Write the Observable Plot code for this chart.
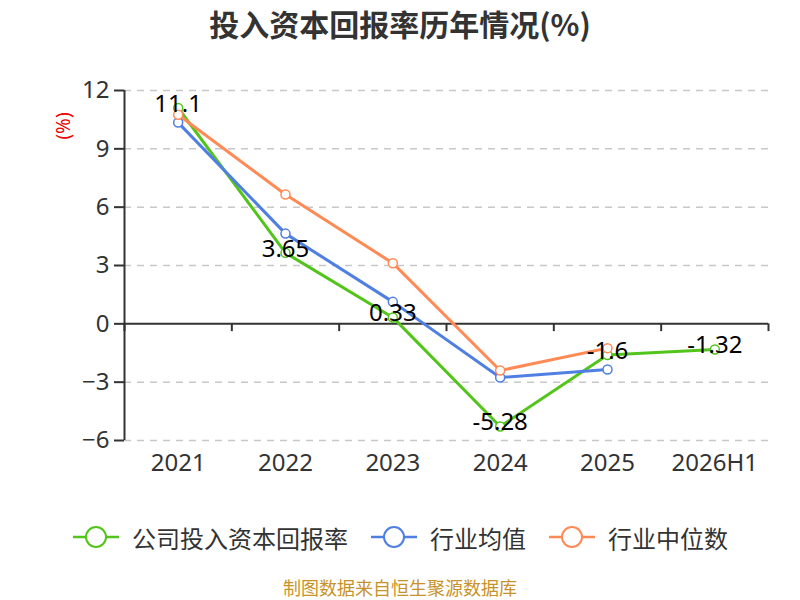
<!DOCTYPE html>
<html>
<head>
<meta charset="utf-8">
<script src="https://cdn.jsdelivr.net/npm/d3@7"></script>
<script src="https://cdn.jsdelivr.net/npm/@observablehq/plot@0.6"></script>
<style>
  body { margin: 0; background: #fff; }
  #wrap { position: relative; width: 800px; height: 600px; font-family: "Noto Sans", "Noto Sans CJK SC", sans-serif; }
  #title { position: absolute; left: 0; top: 0; width: 800px; height: 46px; line-height: 46px; text-align: center;
           font-size: 30px; font-weight: bold; color: #333; font-family: "Noto Sans CJK SC", sans-serif; }
  #chart { position: absolute; left: 0; top: 0; }
  #unit { position: absolute; left: 46px; top: 114px; width: 34px; height: 24px; line-height: 24px; text-align: center;
          color: #e00; font-size: 19px; transform: rotate(-90deg); }
  #legend { position: absolute; left: 0; top: 517px; width: 800px; height: 40px; display: flex; justify-content: center; align-items: center;
            font-family: "Noto Sans CJK SC", sans-serif; font-size: 24px; color: #333; }
  .item { display: flex; align-items: center; margin: 0 11px; }
  .item svg { margin-right: 12px; }
  #caption { position: absolute; left: 0; top: 576px; width: 800px; height: 22px; line-height: 22px; text-align: center; font-size: 18px; color: #c8922a;
             font-family: "Noto Sans CJK SC", sans-serif; }
</style>
</head>
<body>
<div id="wrap">
  <div id="chart"></div>
  <div id="title">投入资本回报率历年情况(%)</div>
  <div id="unit">(%)</div>
  <div id="legend"></div>
  <div id="caption">制图数据来自恒生聚源数据库</div>
</div>
<script>
const categories = ["2021", "2022", "2023", "2024", "2025", "2026H1"];
const company = [11.1, 3.65, 0.33, -5.28, -1.6, -1.32];
const industryAvg = [10.35, 4.64, 1.13, -2.76, -2.35, null];
const industryMedian = [10.75, 6.65, 3.12, -2.4, -1.25, null];
const yTicks = [-6, -3, 0, 3, 6, 9, 12];
const seriesNames = ["公司投入资本回报率", "行业均值", "行业中位数"];
const seriesColors = ["#52c41a", "#4f7fe3", "#ff8a55"];

const seriesValues = [company, industryAvg, industryMedian];
const rows = [];
seriesValues.forEach((vals, s) => vals.forEach((v, i) => {
  if (v !== null) rows.push({ i, cat: categories[i], value: v, series: seriesNames[s] });
}));
const companyRows = rows.filter(d => d.series === seriesNames[0]);
const idx = categories.map((d, i) => i);
const boundaries = categories.map((d, i) => i - 0.5).concat([categories.length - 0.5]);

const chart = Plot.plot({
  width: 800,
  height: 500,
  marginTop: 90,
  marginBottom: 60,
  marginLeft: 124,
  marginRight: 32,
  style: { fontFamily: '"Noto Sans", "Noto Sans CJK SC", sans-serif', fontSize: "24px", color: "#333", background: "transparent" },
  x: { type: "linear", domain: [-0.5, categories.length - 0.5] },
  y: { domain: [-6, 12] },
  color: { domain: seriesNames, range: seriesColors },
  marks: [
    Plot.ruleY(yTicks.filter(d => d !== 0), { stroke: "#c8c8c8", strokeWidth: 1.5, strokeDasharray: "7,6" }),
    Plot.axisY({ ticks: yTicks, tickSize: 10, tickPadding: 5, stroke: "#333", strokeWidth: 2, fill: "#333", fontSize: 24, label: null }),
    Plot.ruleX([-0.5], { stroke: "#333", strokeWidth: 2 }),
    Plot.ruleY([0], { stroke: "#333", strokeWidth: 2 }),
    Plot.ruleX(boundaries, { y1: 0, y2: -0.4, stroke: "#333", strokeWidth: 2 }),
    Plot.axisX({ ticks: idx, tickFormat: i => categories[i], tickSize: 0, tickPadding: 13, anchor: "bottom", fill: "#333", fontSize: 24, label: null }),
    Plot.line(rows, { x: "i", y: "value", z: "series", stroke: "series", strokeWidth: 3 }),
    Plot.dot(rows, { x: "i", y: "value", stroke: "series", fill: "#fff", r: 4.5, strokeWidth: 1.5 }),
    Plot.text(companyRows, { x: "i", y: "value", text: d => String(d.value), dy: -4, fill: "#000", fontSize: 24 })
  ]
});
document.getElementById("chart").appendChild(chart);

const legend = document.getElementById("legend");
seriesNames.forEach((name, s) => {
  const item = document.createElement("div");
  item.className = "item";
  item.innerHTML = `<svg width="48" height="24"><line x1="1" y1="12" x2="47" y2="12" stroke="${seriesColors[s]}" stroke-width="2.5"/><circle cx="24" cy="12" r="10" fill="#fff" stroke="${seriesColors[s]}" stroke-width="2"/></svg><span>${name}</span>`;
  legend.appendChild(item);
});
</script>
</body>
</html>
